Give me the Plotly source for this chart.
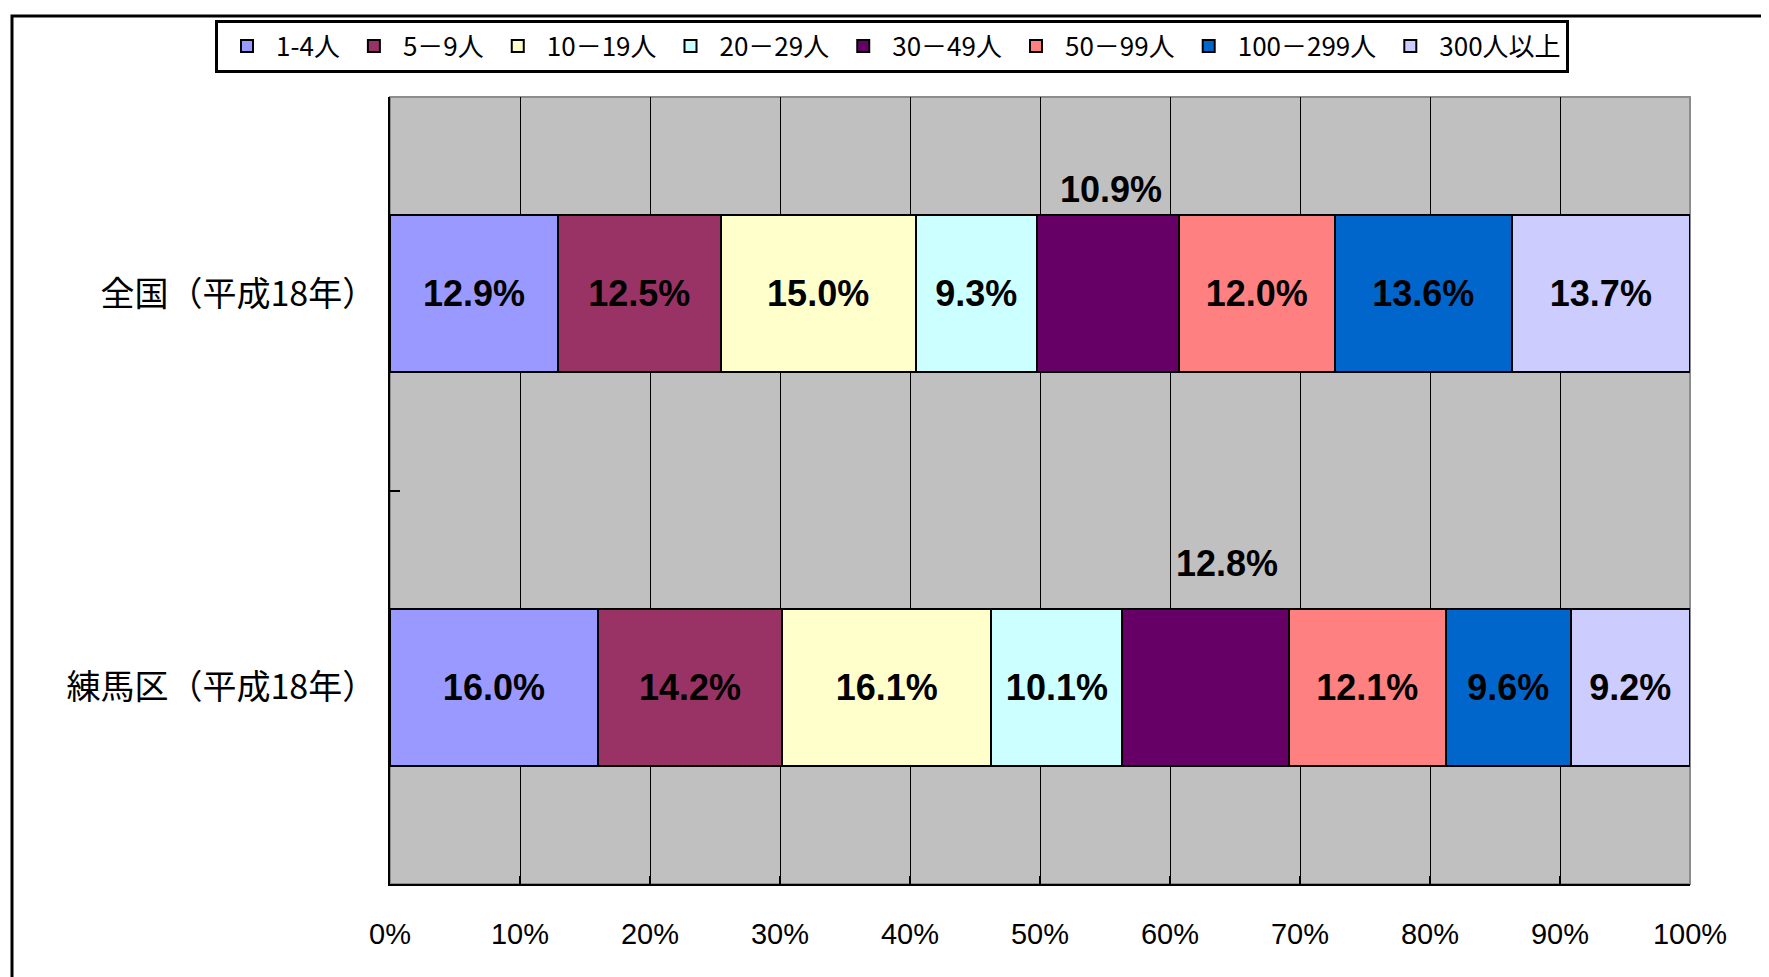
import plotly.graph_objects as go

categories = ["全国（平成18年）", "練馬区（平成18年）"]
series_names = ["1-4人", "5－9人", "10－19人", "20－29人", "30－49人", "50－99人", "100－299人", "300人以上"]
zenkoku = [12.9, 12.5, 15.0, 9.3, 10.9, 12.0, 13.6, 13.7]
nerima = [16.0, 14.2, 16.1, 10.1, 12.8, 12.1, 9.6, 9.2]
colors = ["#9999FF", "#993366", "#FFFFCC", "#CCFFFF", "#660066", "#FF8080", "#0066CC", "#CCCCFF"]
x_ticks = list(range(0, 101, 10))

# series whose labels sit above the bar (dark fill)
outside_series = 4
outside_shift = [(3, 104), (21, 124)]  # (xshift, yshift) per category in px

rows = [zenkoku, nerima]
fig = go.Figure()
for i, name in enumerate(series_names):
    vals = [r[i] for r in rows]
    texts = ["" if i == outside_series else f"{v:.1f}%" for v in vals]
    fig.add_trace(go.Bar(
        y=categories, x=vals, name=name, orientation="h",
        marker=dict(color=colors[i], line=dict(color="black", width=2)),
        text=texts, textposition="inside", insidetextanchor="middle",
        textangle=0, constraintext="none",
        textfont=dict(family="Liberation Sans", size=36, color="black", weight="bold"),
        hoverinfo="skip",
    ))

# labels for the dark segment, placed above the bars
for ci, (cat, r) in enumerate(zip(categories, rows)):
    total = sum(r)
    start = sum(r[:outside_series]) / total * 100
    width = r[outside_series] / total * 100
    xs, ys = outside_shift[ci]
    fig.add_annotation(
        x=start + width / 2, y=cat, text=f"{r[outside_series]:.1f}%",
        showarrow=False, xshift=xs, yshift=ys,
        font=dict(family="Liberation Sans", size=36, color="black", weight="bold"),
    )

# page body has an 8px margin, so compensate
OFF = 8
W, H = 1769 - OFF, 977 - OFF
L, R, T, B = 390 - OFF, 1690 - OFF, 91 - OFF, 884 - OFF
pw, ph = R - L, B - T

# plot-area shadow frame (top/right grey edge)
fig.add_shape(type="rect", xref="paper", yref="paper", x0=0, x1=1.0, y0=0, y1=1.0,
              line=dict(color="#8C8C8C", width=2), layer="below")
# outer chart border (top and left visible)
fig.add_shape(type="rect", xref="paper", yref="paper",
              x0=(12 - OFF - L) / pw, x1=(W + 20 - L) / pw,
              y0=(B - (H + 20)) / ph, y1=(B - 1.5) / ph,
              line=dict(color="black", width=3))

fig.update_layout(
    width=W, height=H,
    barmode="stack", barnorm="percent", bargap=0.6,
    plot_bgcolor="#C0C0C0", paper_bgcolor="white",
    margin=dict(l=L, r=W - R, t=T, b=H - B, pad=0),
    showlegend=True,
    legend=dict(
        orientation="h", x=(215 - OFF - L) / pw, xanchor="left",
        y=(B - (13 - OFF)) / ph, yanchor="top",
        bgcolor="white", bordercolor="black", borderwidth=3,
        font=dict(family="Noto Sans CJK JP", size=26, color="black"),
        traceorder="normal", itemclick=False, itemwidth=48,
    ),
    font=dict(family="Liberation Sans", color="black"),
)
fig.update_xaxes(
    range=[0, 100], tickvals=x_ticks, ticktext=[f"{t}%" for t in x_ticks],
    showgrid=True, gridcolor="black", gridwidth=1,
    showline=True, linecolor="black", linewidth=2,
    ticks="inside", ticklen=8, tickwidth=2, tickcolor="black",
    tickfont=dict(family="Liberation Sans", size=29, color="black"),
    ticklabelstandoff=23, zeroline=False, fixedrange=True,
)
fig.update_yaxes(
    autorange="reversed", categoryorder="array", categoryarray=categories,
    showgrid=False, showline=True, linecolor="black", linewidth=2,
    tickson="boundaries", ticks="inside", ticklen=10, tickwidth=2, tickcolor="black",
    tickfont=dict(family="Noto Sans CJK JP", size=34, color="black"),
    ticklabelstandoff=5, fixedrange=True,
)

fig.write_html("out.html")
